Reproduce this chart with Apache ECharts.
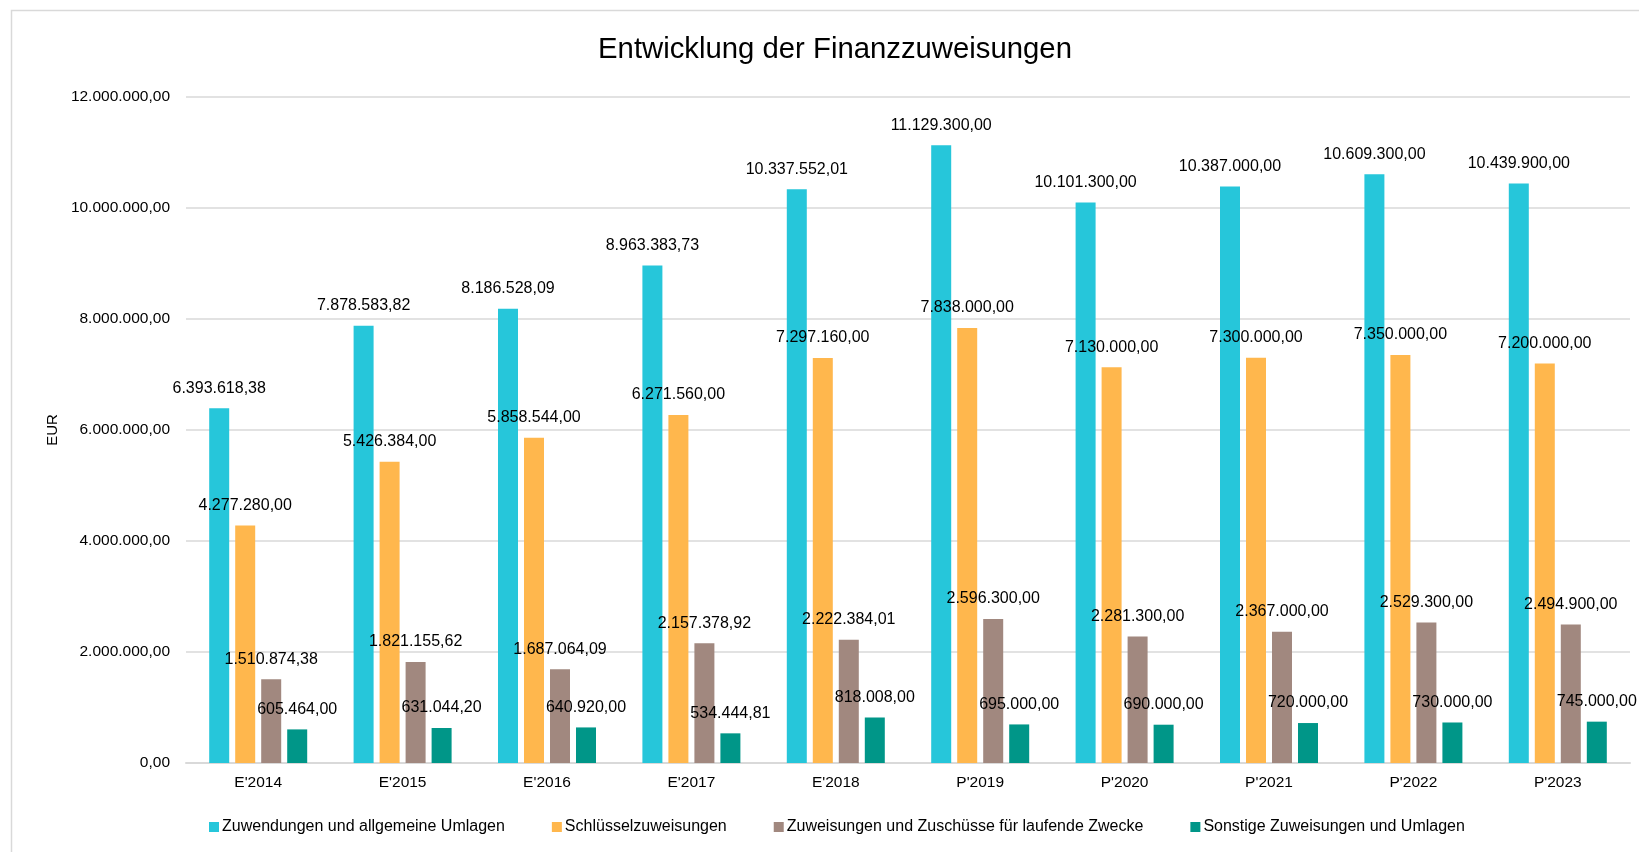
<!DOCTYPE html>
<html>
<head>
<meta charset="utf-8">
<title>Entwicklung der Finanzzuweisungen</title>
<script src="https://cdn.jsdelivr.net/npm/echarts@6/dist/echarts.min.js"></script>
<style>
    html, body { margin: 0; padding: 0; background: #fff; }
    #chart { width: 1639px; height: 852px; }
</style>
</head>
<body>
<div id="chart"></div>
<script>
const categories = ["E'2014", "E'2015", "E'2016", "E'2017", "E'2018", "P'2019", "P'2020", "P'2021", "P'2022", "P'2023"];

const zuwendungen = [6393618.38, 7878583.82, 8186528.09, 8963383.73, 10337552.01, 11129300, 10101300, 10387000, 10609300, 10439900];
const schluessel = [4277280, 5426384, 5858544, 6271560, 7297160, 7838000, 7130000, 7300000, 7350000, 7200000];
const laufendeZwecke = [1510874.38, 1821155.62, 1687064.09, 2157378.92, 2222384.01, 2596300, 2281300, 2367000, 2529300, 2494900];
const sonstige = [605464, 631044.20, 640920, 534444.81, 818008, 695000, 690000, 720000, 730000, 745000];

const seriesNames = [
    "Zuwendungen und allgemeine Umlagen",
    "Schlüsselzuweisungen",
    "Zuweisungen und Zuschüsse für laufende Zwecke",
    "Sonstige Zuweisungen und Umlagen"
];
const colors = ["#26C6DA", "#FFB74D", "#A1887F", "#009688"];

const FONT = "'Liberation Sans', Arial, sans-serif";

// Zahl im deutschen Format: 1.234.567,89
function formatDE(v) {
    const parts = Number(v).toFixed(2).split(".");
    parts[0] = parts[0].replace(/\B(?=(\d{3})+(?!\d))/g, ".");
    return parts[0] + "," + parts[1];
}

const chart = echarts.init(document.getElementById("chart"));

const allData = [zuwendungen, schluessel, laufendeZwecke, sonstige];
const series = [];
for (let i = 0; i < allData.length; i++) {
    series.push({
        name: seriesNames[i],
        type: "bar",
        data: allData[i],
        barWidth: 20,
        barGap: "30%",
        itemStyle: { color: colors[i] },
        label: {
            show: true,
            position: "top",
            distance: 12,
            color: "#000",
            fontFamily: FONT,
            fontSize: 16,
            formatter: function (p) { return formatDE(p.value); }
        }
    });
}

const option = {
    animation: false,
    color: colors,
    title: {
        text: "Entwicklung der Finanzzuweisungen",
        left: 830,
        textAlign: "center",
        top: 30,
        textStyle: { fontFamily: FONT, fontSize: 29.3, fontWeight: "normal", color: "#000" }
    },
    graphic: [
        {
            type: "rect",
            shape: { x: 11.5, y: 10.5, width: 1700, height: 900 },
            style: { fill: "none", stroke: "#d9d9d9", lineWidth: 1.5 },
            silent: true,
            z: -1
        }
    ],
    legend: {
        data: seriesNames,
        left: 204,
        top: 814,
        itemWidth: 10,
        itemHeight: 10,
        itemGap: 47,
        icon: "rect",
        textStyle: { fontFamily: FONT, fontSize: 16, color: "#000", padding: [0, 0, 0, -2] }
    },
    grid: { left: 186, right: 9, top: 97, bottom: 89, containLabel: false },
    xAxis: {
        type: "category",
        data: categories,
        axisTick: { show: false },
        axisLine: { lineStyle: { color: "#d9d9d9", width: 2 } },
        axisLabel: { color: "#000", fontFamily: FONT, fontSize: 15.5, margin: 12 }
    },
    yAxis: {
        type: "value",
        min: 0,
        max: 12000000,
        interval: 2000000,
        name: "EUR",
        nameLocation: "middle",
        nameGap: 126,
        nameTextStyle: { color: "#000", fontFamily: FONT, fontSize: 15 },
        axisLine: { show: false },
        axisTick: { show: false },
        splitLine: { lineStyle: { color: "#d9d9d9", width: 1.5 } },
        axisLabel: {
            color: "#000",
            fontFamily: FONT,
            fontSize: 15.5,
            margin: 16,
            formatter: function (v) { return formatDE(v); }
        }
    },
    series: series
};

chart.setOption(option);
</script>
</body>
</html>
